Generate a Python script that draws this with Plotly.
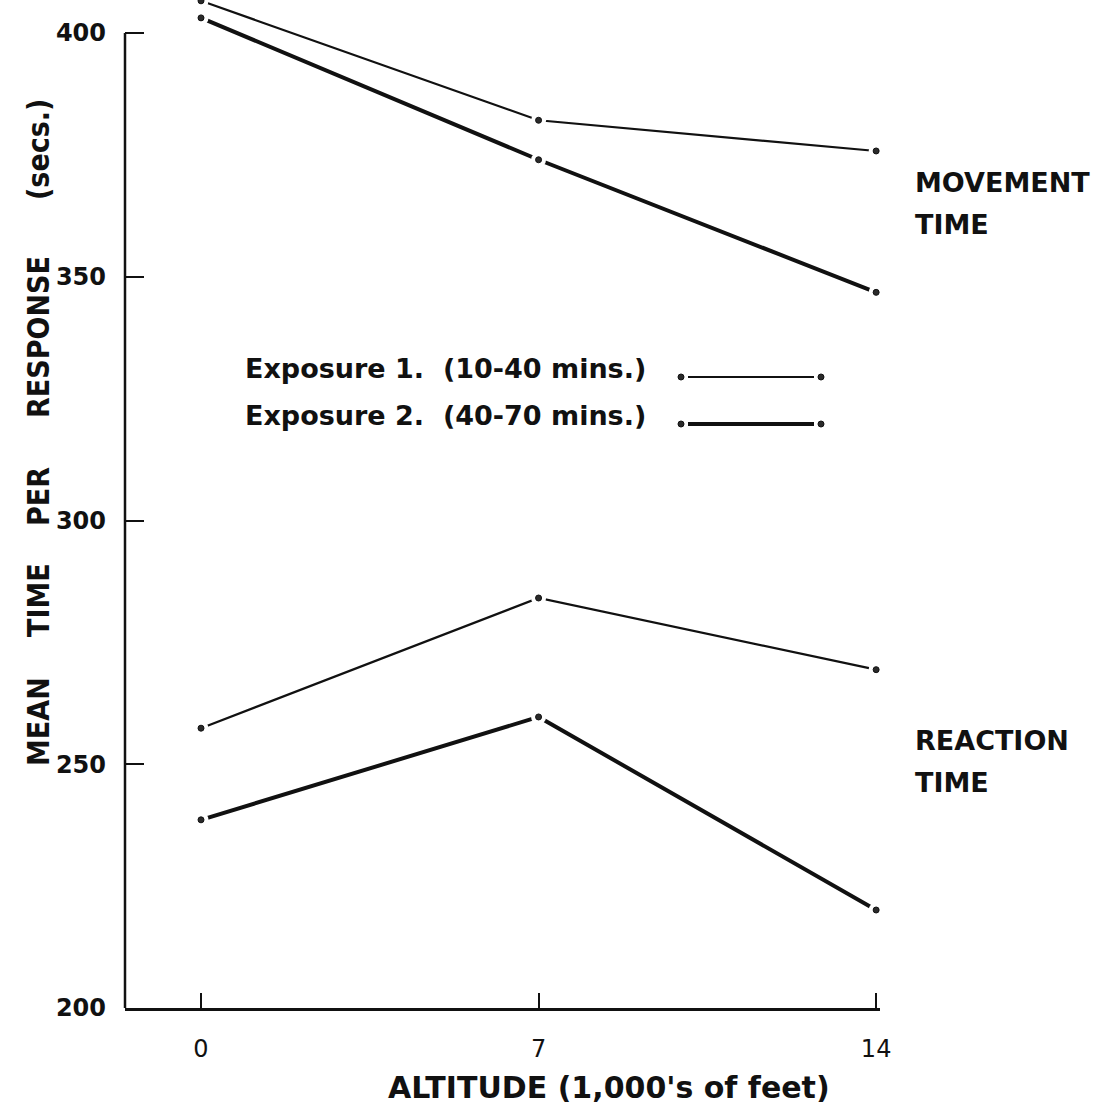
import plotly.graph_objects as go

# Altitude (thousands of feet) and mean response times (secs.)
altitude = [0, 7, 14]
movement_exp1 = [406.6, 382.1, 375.8]
movement_exp2 = [403.1, 374.0, 346.8]
reaction_exp1 = [257.4, 284.1, 269.4]
reaction_exp2 = [238.6, 259.7, 220.1]

x_ticks = [0, 7, 14]
x_tick_text = ["0", "7", "14"]
y_ticks = [200, 250, 300, 350, 400]
y_tick_text = ["200", "250", "300", "350", "400"]

W, H = 1107, 1108
ML, MR, MT, MB = 125, 227, 0, 100
PW, PH = W - ML - MR, H - MT - MB

INK = "#111111"
BOLD_COND = dict(family="DejaVu Sans Condensed, DejaVu Sans", size=30, color=INK, weight="bold")
BOLD_KEY = dict(family="DejaVu Sans", size=27, color=INK, weight="bold")
BOLD_WIDE = dict(family="DejaVu Sans", size=27, color=INK, weight="bold")


def px_x(px):
    return (px - ML) / PW


def px_y(py):
    return (H - MB - py) / PH


THIN, THICK = 2.2, 4.0
series = [
    (movement_exp1, THIN),
    (movement_exp2, THICK),
    (reaction_exp1, THIN),
    (reaction_exp2, THICK),
]

fig = go.Figure()

# connecting lines
for ys, w in series:
    fig.add_trace(go.Scatter(x=altitude, y=ys, mode="lines",
                             line=dict(color=INK, width=w), hoverinfo="skip"))
# white halo leaves a small gap between each point and its lines
for ys, w in series:
    fig.add_trace(go.Scatter(x=altitude, y=ys, mode="markers", cliponaxis=False,
                             marker=dict(size=15, color="white", line=dict(width=0)),
                             hoverinfo="skip"))
# the plotted points
for ys, w in series:
    fig.add_trace(go.Scatter(x=altitude, y=ys, mode="markers", cliponaxis=False,
                             marker=dict(size=6, color="#2a2a2a",
                                         line=dict(color=INK, width=1))))

fig.update_layout(
    width=W, height=H,
    margin=dict(l=ML, r=MR, t=MT, b=MB, pad=0),
    paper_bgcolor="white", plot_bgcolor="white",
    showlegend=False,
    xaxis=dict(range=[-1.576, 14.08], tickvals=x_ticks, ticktext=x_tick_text,
               ticks="inside", ticklen=15, tickwidth=2.2, tickcolor=INK,
               showline=True, linecolor=INK, linewidth=2.5,
               showgrid=False, zeroline=False, ticklabelstandoff=17,
               tickfont=dict(family="DejaVu Sans", size=24, color=INK)),
    yaxis=dict(range=[200, 406.77], tickvals=y_ticks, ticktext=y_tick_text,
               ticks="inside", ticklen=19, tickwidth=2.2, tickcolor=INK,
               showline=False, showgrid=False, zeroline=False,
               ticklabelstandoff=18,
               tickfont=dict(family="DejaVu Sans", size=24, color=INK, weight="bold")),
)

# left axis spine stops at the 400 tick
fig.add_shape(type="line", xref="paper", yref="y", x0=0, x1=0, y0=200, y1=400,
              line=dict(color=INK, width=2.5))

# y-axis title, one word at a time
for word, cy in [("MEAN", 722), ("TIME", 600), ("PER", 497),
                 ("RESPONSE", 337), ("(secs.)", 150)]:
    fig.add_annotation(text=word, xref="paper", yref="paper", x=px_x(38), y=px_y(cy),
                       textangle=-90, showarrow=False, font=BOLD_COND,
                       xanchor="center", yanchor="middle")

# x-axis title
fig.add_annotation(text="ALTITUDE (1,000's of feet)", xref="paper", yref="paper",
                   x=px_x(609), y=px_y(1087), showarrow=False,
                   font=dict(family="DejaVu Sans", size=30, color=INK, weight="bold"),
                   xanchor="center", yanchor="middle")

# right-hand labels
for text, cy in [("MOVEMENT", 182), ("TIME", 225), ("REACTION", 740), ("TIME", 782)]:
    fig.add_annotation(text=text, xref="paper", yref="paper", x=px_x(913), y=px_y(cy),
                       showarrow=False, font=BOLD_WIDE, xanchor="left", yanchor="middle")

# key
key = [("Exposure 1.  (10-40 mins.)", 368, 377, THIN),
       ("Exposure 2.  (40-70 mins.)", 415, 424, THICK)]
for text, ty, ly, w in key:
    fig.add_annotation(text=text, xref="paper", yref="paper", x=px_x(243), y=px_y(ty),
                       showarrow=False, font=BOLD_KEY, xanchor="left", yanchor="middle")
    fig.add_shape(type="line", xref="paper", yref="paper",
                  x0=px_x(688), x1=px_x(814), y0=px_y(ly), y1=px_y(ly),
                  line=dict(color=INK, width=w))
    for cx in (681, 821):
        fig.add_shape(type="circle", xref="paper", yref="paper",
                      x0=px_x(cx - 3), x1=px_x(cx + 3), y0=px_y(ly - 3), y1=px_y(ly + 3),
                      fillcolor="#2a2a2a", line=dict(color=INK, width=1))

fig.write_html("out.html")
